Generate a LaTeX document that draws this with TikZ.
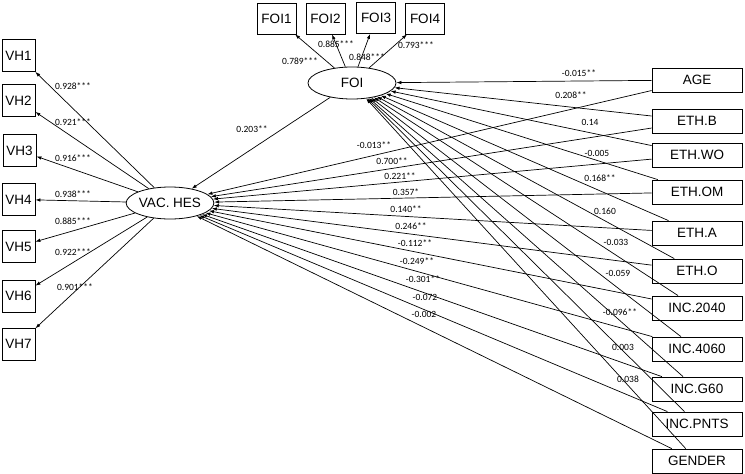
\documentclass[tikz,border=0pt]{standalone}
\usepackage{fontspec}
\setmainfont{Liberation Sans}
\newfontfamily\lblfont{Carlito}
\usetikzlibrary{arrows.meta,shapes.geometric}
\begin{document}
\begin{tikzpicture}[x=1pt,y=-1pt,
 box/.style={draw, line width=0.8pt, inner sep=0pt, font=\fontsize{13.5}{15}\selectfont},
 vhbox/.style={box, minimum width=33pt, minimum height=32pt},
 foibox/.style={box, minimum width=39pt, minimum height=31pt},
 rbox/.style={box, minimum width=90pt, minimum height=24pt},
 lat/.style={draw, ellipse, line width=0.8pt, inner sep=0pt, minimum width=88pt, minimum height=32pt, font=\fontsize{13.5}{15}\selectfont},
 arr/.style={line width=0.7pt, -{Latex[length=5pt,width=3.5pt]}},
 lbl/.style={font=\lblfont\fontsize{9.5}{10}\selectfont, inner sep=0pt}]
\useasboundingbox (0,0) rectangle (745,474);
% latent variables
\node[lat] (foi) at (352,83) {FOI};
\node[lat, minimum width=86pt] (vac) at (170,203) {VAC. HES};
% FOI indicators
\node[foibox] (foi1) at (276.5,18.5) {FOI1};
\node[foibox] (foi2) at (325.5,18.5) {FOI2};
\node[foibox] (foi3) at (376,18) {FOI3};
\node[foibox] (foi4) at (425,18.5) {FOI4};
% VH indicators
\node[vhbox] (vh1) at (18.5,55.5) {VH1};
\node[vhbox] (vh2) at (18.5,100.5) {VH2};
\node[vhbox] (vh3) at (19.5,150.5) {VH3};
\node[vhbox] (vh4) at (18.5,199.5) {VH4};
\node[vhbox] (vh5) at (18.5,246.5) {VH5};
\node[vhbox] (vh6) at (18.5,296) {VH6};
\node[vhbox] (vh7) at (18.5,344) {VH7};
% exogenous
\node[rbox] (age) at (697,80) {AGE};
\node[rbox] (ethb) at (697,121) {ETH.B};
\node[rbox] (ethwo) at (697,155) {ETH.WO};
\node[rbox] (ethom) at (697,192) {ETH.OM};
\node[rbox] (etha) at (697,233) {ETH.A};
\node[rbox] (etho) at (697,271) {ETH.O};
\node[rbox] (inca) at (697,308) {INC.2040};
\node[rbox] (incb) at (697,349) {INC.4060};
\node[rbox] (incc) at (697,389) {INC.G60};
\node[rbox] (incd) at (697,424) {INC.PNTS};
\node[rbox] (gender) at (697,461) {GENDER};
% connectors
\foreach \t in {foi1,foi2,foi3,foi4} \draw[arr] (foi) -- (\t);
\foreach \t in {vh1,vh2,vh3,vh4,vh5,vh6,vh7} \draw[arr] (vac) -- (\t);
\draw[arr] (foi) -- (vac);
\foreach \s in {age,ethb,ethwo,ethom,etha,etho,inca,incb,incc,incd,gender} {
  \draw[arr] (\s) -- (foi);
  \draw[arr] (\s) -- (vac);
}
% loadings
\node[lbl] at (300,61) {0.789***};
\node[lbl] at (336,44) {0.885***};
\node[lbl] at (367,57) {0.848***};
\node[lbl] at (416,45) {0.793***};
\node[lbl] at (73,86) {0.928***};
\node[lbl] at (73,122) {0.921***};
\node[lbl] at (73,158) {0.916***};
\node[lbl] at (73,194) {0.938***};
\node[lbl] at (73,221) {0.885***};
\node[lbl] at (73,252) {0.922***};
\node[lbl] at (75,287) {0.901***};
\node[lbl] at (252,129) {0.203**};
% paths to VAC. HES
\node[lbl] at (374,145) {-0.013**};
\node[lbl] at (392,161) {0.700**};
\node[lbl] at (400,176) {0.221**};
\node[lbl] at (406,192) {0.357*};
\node[lbl] at (406,209) {0.140**};
\node[lbl] at (411,226) {0.246**};
\node[lbl] at (415,243) {-0.112**};
\node[lbl] at (417,261) {-0.249**};
\node[lbl] at (423,279) {-0.301**};
\node[lbl] at (425,297) {-0.072};
\node[lbl] at (424,314) {-0.002};
% paths to FOI
\node[lbl] at (579,73) {-0.015**};
\node[lbl] at (571,95) {0.208**};
\node[lbl] at (590,122) {0.14};
\node[lbl] at (597,153) {-0.005};
\node[lbl] at (600,178) {0.168**};
\node[lbl] at (605,211) {0.160};
\node[lbl] at (616,242) {-0.033};
\node[lbl] at (618,273) {-0.059};
\node[lbl] at (620,312) {-0.096**};
\node[lbl] at (623,347) {0.003};
\node[lbl] at (628,379) {0.038};
\end{tikzpicture}
\end{document}
